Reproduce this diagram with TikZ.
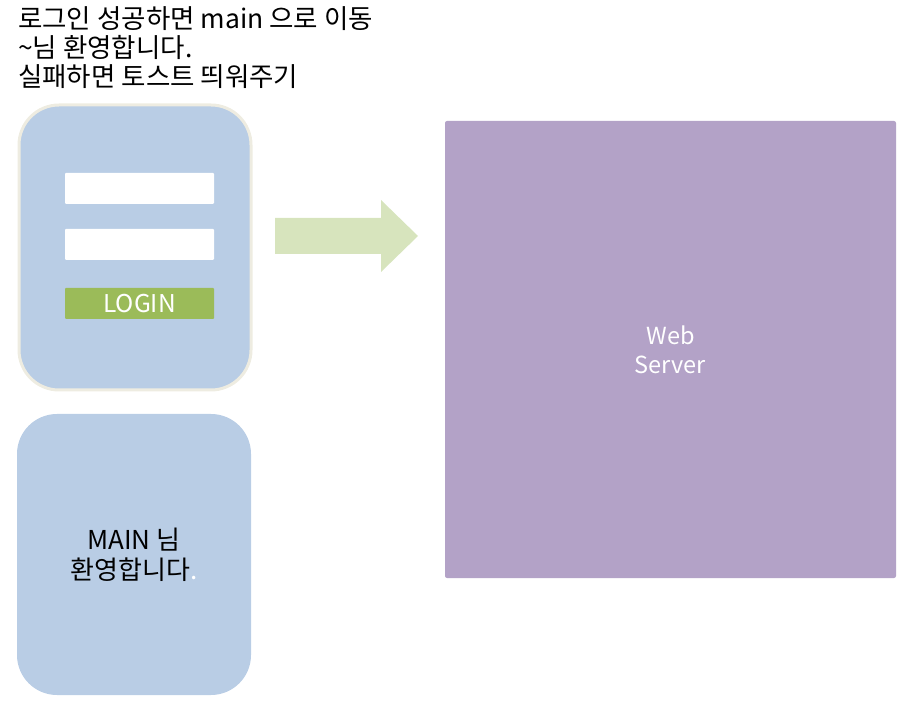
\documentclass[tikz,border=0pt]{standalone}
\usepackage{fontspec}
\setmainfont{Noto Sans CJK KR}
\usetikzlibrary{positioning}
\definecolor{boxblue}{HTML}{B9CDE5}
\definecolor{boxedge}{HTML}{EEECE1}
\definecolor{btngreen}{HTML}{9BBB59}
\definecolor{arrowgreen}{HTML}{D7E4BD}
\definecolor{serverpurple}{HTML}{B3A2C7}
\tikzset{
  panel/.style={fill=boxblue, rounded corners=40pt, inner sep=0pt, outer sep=0pt},
  field/.style={fill=white, rounded corners=1pt, minimum width=149pt, minimum height=31pt, inner sep=0pt},
  button/.style={fill=btngreen, rounded corners=1pt, minimum width=149pt, minimum height=31pt, inner sep=0pt, text=white, font=\fontsize{24.5}{28}\selectfont},
  noteline/.style={font=\fontsize{26.5}{28.7}\selectfont, inner sep=0pt, anchor=base west},
}
\begin{document}
\begin{tikzpicture}[x=1pt,y=-1pt]
\useasboundingbox (0,0) rectangle (908,708);
% notes
\node[noteline] (note1) at (18,29) {로그인 성공하면 main 으로 이동};
\node[noteline] (note2) at (18,58) {\textasciitilde 님 환영합니다.};
\node[noteline] (note3) at (18,86.5) {실패하면 토스트 띄워주기};
% login panel
\node[panel, draw=boxedge, line width=3pt, minimum width=232pt, minimum height=285pt] (login) at (135,247.5) {};
\node[field] (id) at (139.5,188.5) {};
\node[field] (pw) at (139.5,244.5) {};
\node[button] (btn) at (139.5,303.5) {LOGIN};
% main panel
\node[panel, minimum width=234pt, minimum height=281pt, align=center, font=\fontsize{26}{30}\selectfont] (main) at (134,554.5) {MAIN 님\\환영합니다\textcolor{white}{.}};
% arrow
\fill[arrowgreen] (275,218) -- (381,218) -- (381,200) -- (418,236) -- (381,272) -- (381,254) -- (275,254) -- cycle;
% server
\node[fill=serverpurple, rounded corners=2pt, minimum width=451pt, minimum height=457pt, inner sep=0pt, text=white, align=center, font=\fontsize{23.5}{29}\selectfont] (server) at (670.5,349.5) {Web\\Server};
\end{tikzpicture}
\end{document}
